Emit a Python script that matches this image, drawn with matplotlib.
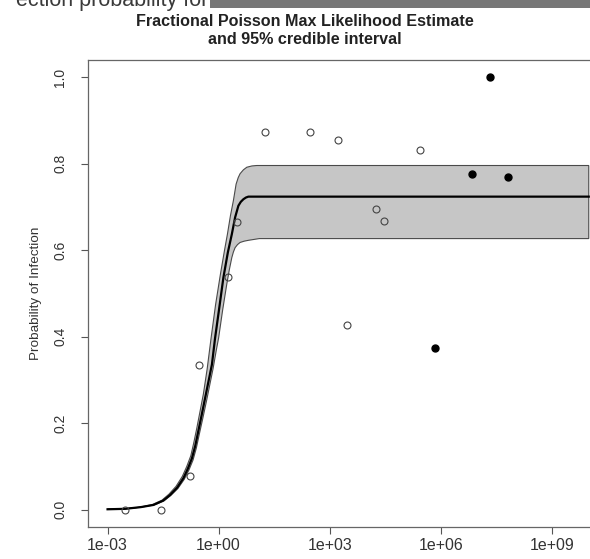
import numpy as np
import matplotlib.pyplot as plt
from matplotlib.patches import Rectangle

plt.rcParams['font.family'] = ['Liberation Sans', 'DejaVu Sans']

# observed data (open = one study group, filled = another)
dose_open = [2.9e-3, 2.8e-2, 0.17, 0.30, 1.77, 3.1, 17.7, 292, 1660, 2.8e5, 1.84e4, 2.95e4, 2.9e3]
prob_open = [0.0, 0.0, 0.077, 0.334, 0.538, 0.666, 0.873, 0.873, 0.855, 0.832, 0.695, 0.667, 0.427]
dose_filled = [2.1e7, 6.9e6, 6.6e7, 7.1e5]
prob_filled = [1.0, 0.777, 0.769, 0.375]

# MLE curve (log10 dose, probability)
mle_logdose = [-3.0, -2.53, -2.1, -1.76, -1.5, -1.31, -1.12, -0.95, -0.83, -0.72, -0.63,
               -0.55, -0.46, -0.365, -0.27, -0.18, -0.095, 0.02, 0.13, 0.25, 0.357, 0.446,
               0.535, 0.6, 0.67, 0.74, 0.805, 1.2, 10.0]
mle_prob = [0.001, 0.002, 0.006, 0.011, 0.021, 0.034, 0.051, 0.073, 0.095, 0.119, 0.148,
            0.181, 0.218, 0.258, 0.298, 0.336, 0.397, 0.468, 0.537, 0.595, 0.637, 0.676,
            0.703, 0.712, 0.718, 0.722, 0.724, 0.724, 0.724]

# 95% credible band: upper and lower edges
hi_logdose = [-3.0, -2.55, -2.12, -1.79, -1.53, -1.34, -1.15, -0.98, -0.86, -0.75, -0.67,
              -0.59, -0.5, -0.41, -0.31, -0.203, -0.08, 0.05, 0.16, 0.238, 0.32, 0.40,
              0.473, 0.53, 0.58, 0.67, 0.762, 0.9, 1.03, 10.0]
hi_prob = [0.001, 0.002, 0.006, 0.012, 0.022, 0.036, 0.054, 0.077, 0.1, 0.125, 0.155,
           0.188, 0.228, 0.268, 0.325, 0.397, 0.475, 0.545, 0.6, 0.637, 0.68, 0.715,
           0.753, 0.768, 0.777, 0.786, 0.792, 0.795, 0.796, 0.796]
lo_logdose = [-3.0, -2.51, -2.08, -1.74, -1.48, -1.29, -1.1, -0.93, -0.8, -0.69, -0.6,
              -0.52, -0.43, -0.33, -0.24, -0.15, -0.06, 0.0, 0.11, 0.22, 0.29, 0.357,
              0.4, 0.446, 0.51, 0.58, 0.69, 0.805, 1.1, 10.0]
lo_prob = [0.001, 0.002, 0.006, 0.011, 0.02, 0.033, 0.049, 0.07, 0.092, 0.115, 0.143,
           0.175, 0.21, 0.25, 0.288, 0.326, 0.37, 0.397, 0.462, 0.521, 0.555, 0.583,
           0.596, 0.606, 0.613, 0.618, 0.621, 0.623, 0.627, 0.627]

xtick_vals = [1e-3, 1e0, 1e3, 1e6, 1e9]
xtick_labels = ['1e-03', '1e+00', '1e+03', '1e+06', '1e+09']
ytick_vals = [0.0, 0.2, 0.4, 0.6, 0.8, 1.0]

fig = plt.figure(figsize=(5.9, 5.59), dpi=100)
ax = fig.add_axes([88.3 / 590, 1 - 527 / 559, (608 - 88.3) / 590, (527 - 60) / 559])

# band polygon
bx = np.concatenate([10 ** np.array(hi_logdose), 10 ** np.array(lo_logdose)[::-1]])
by = np.concatenate([hi_prob, lo_prob[::-1]])
ax.fill(bx, by, facecolor='#c6c6c6', edgecolor='#4a4a4a', linewidth=0.8, zorder=1)
ax.plot(10 ** np.array(mle_logdose), mle_prob, color='black', linewidth=1.6, zorder=2)

ax.plot(dose_open, prob_open, linestyle='none', marker='o', markersize=5,
        markerfacecolor='none', markeredgecolor='#444444', markeredgewidth=0.8, zorder=3)
ax.plot(dose_filled, prob_filled, linestyle='none', marker='o', markersize=5,
        color='black', zorder=3)

ax.set_xscale('log')
ax.set_xlim(10 ** -3.52, 10 ** 10.52)
ax.set_ylim(-0.04, 1.04)
ax.set_xticks(xtick_vals)
ax.set_xticklabels(xtick_labels, fontsize=11.5)
ax.minorticks_off()
ax.set_yticks(ytick_vals)
ax.set_yticklabels([f'{v:.1f}' for v in ytick_vals], rotation=90, va='center', fontsize=10)
ax.tick_params(axis='both', direction='out', length=5, width=0.8, color='#555555',
               labelcolor='#333333')
ax.tick_params(axis='x', pad=3)
ax.tick_params(axis='y', pad=10)
for s in ax.spines.values():
    s.set_color('#666666')
    s.set_linewidth(0.9)
ax.set_ylabel('Probability of Infection', fontsize=9.7, color='#333333', labelpad=8)

fig.text(305 / 590, 1 - 21 / 559, 'Fractional Poisson Max Likelihood Estimate',
         ha='center', va='center', fontsize=11.6, fontweight='bold', color='#222222')
fig.text(305 / 590, 1 - 40 / 559, 'and 95% credible interval',
         ha='center', va='center', fontsize=11.6, fontweight='bold', color='#222222')

# cropped fragment of a heading above the chart
fig.patches.append(Rectangle((210 / 590, 1 - 8 / 559), 380 / 590, 8 / 559,
                             transform=fig.transFigure, facecolor='#777777', edgecolor='none'))
fig.text(16 / 590, 1 - 6 / 559, 'ection probability for', ha='left', va='baseline',
         fontsize=15.5, color='#3a3a3a')

fig.savefig('out.png', dpi=100)
